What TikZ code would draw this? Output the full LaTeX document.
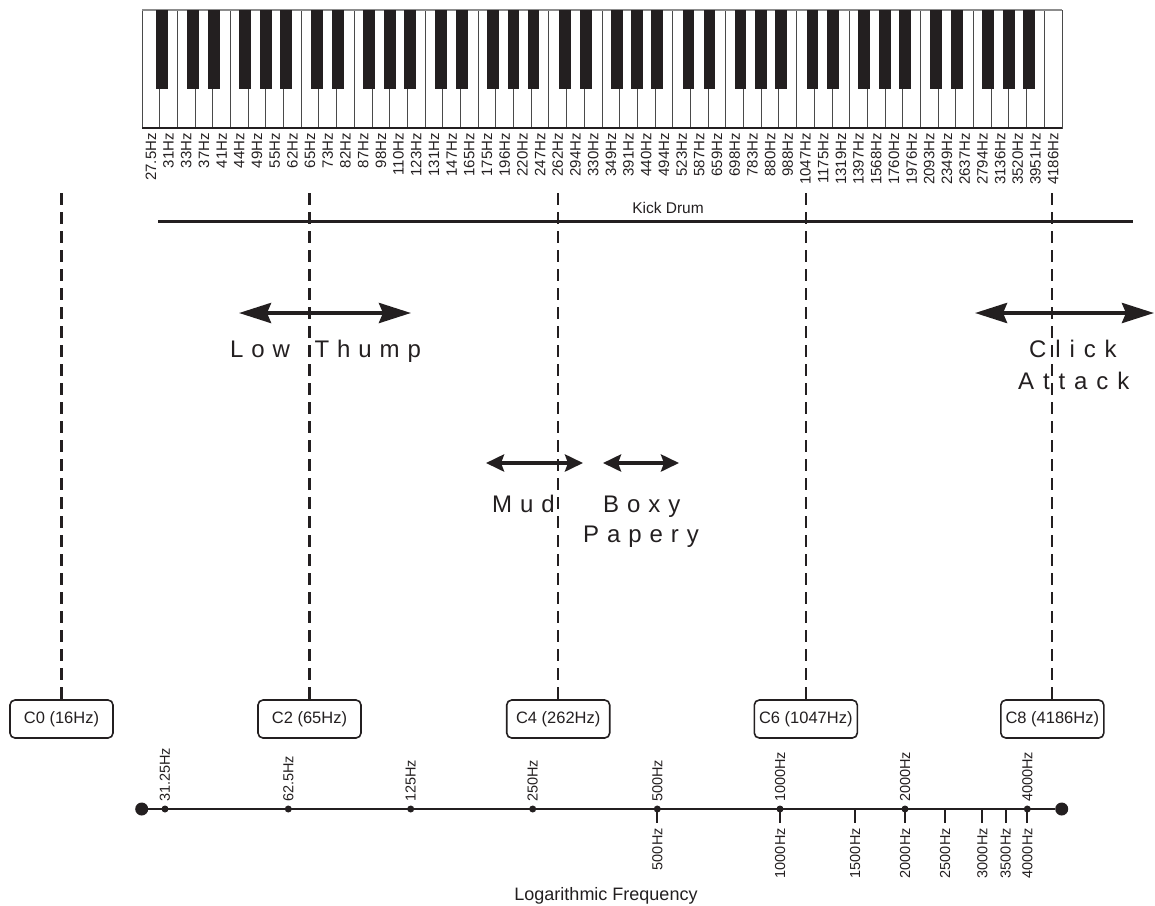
\documentclass[tikz,border=0pt]{standalone}
\usepackage{fontspec}
\setmainfont{Liberation Sans}
\newfontfamily\trackedA[LetterSpace=33]{Liberation Sans}
\newfontfamily\trackedB[LetterSpace=37]{Liberation Sans}
\usetikzlibrary{arrows.meta}
\definecolor{ink}{HTML}{231F20}
\definecolor{keyline}{HTML}{4A4A4A}
\definecolor{keytop}{HTML}{8C8C8C}

\begin{document}
\begin{tikzpicture}[x=1pt,y=-1pt,
  whitekey/.style={draw=keyline, line width=0.9pt, fill=white},
  blackkey/.style={fill=ink},
  keylabel/.style={rotate=90, anchor=east, inner sep=0pt, text=ink, font=\fontsize{15}{16}\selectfont},
  axlabelup/.style={rotate=90, anchor=west, inner sep=0pt, text=ink, font=\fontsize{14.5}{15}\selectfont},
  axlabeldown/.style={rotate=90, anchor=east, inner sep=0pt, text=ink, font=\fontsize{14.5}{15}\selectfont},
  notebox/.style={draw=ink, line width=1.6pt, rounded corners=5pt, fill=white,
    minimum width=103pt, minimum height=38pt, inner sep=0pt, text=ink,
    font=\fontsize{16.5}{18}\selectfont},
  guide/.style={draw=ink, line width=2.1pt, dash pattern=on 12pt off 7pt},
  bigarrow/.style={draw=ink, line width=4pt,
    {Stealth[length=32pt,width=20pt,inset=4pt]}-{Stealth[length=32pt,width=20pt,inset=4pt]}},
  smallarrow/.style={draw=ink, line width=4pt,
    {Stealth[length=18pt,width=17pt,inset=3pt]}-{Stealth[length=18pt,width=17pt,inset=3pt]}},
  bandA/.style={anchor=base west, inner sep=0pt, text=ink, font=\trackedA\fontsize{24}{30}\selectfont},
  bandB/.style={anchor=base west, inner sep=0pt, text=ink, font=\trackedB\fontsize{24}{30}\selectfont},
  bigdot/.style={circle, fill=ink, minimum size=13pt, inner sep=0pt},
  smalldot/.style={circle, fill=ink, minimum size=7pt, inner sep=0pt},
  axis/.style={draw=ink, line width=2pt},
  stub/.style={draw=ink, line width=2pt}]
\useasboundingbox (0,0) rectangle (1155,905);

% ---- keyboard: 52 white keys from A0 to C8 ----
\def\wk{17.6923}
\foreach \i in {0,...,51}
  \draw[whitekey] ({142+\i*\wk},10) rectangle ++(\wk,118);
\draw[keytop, line width=1.2pt] (142,10) -- (1062,10);
\draw[ink, line width=1.3pt] (142,128) -- (1062,128);

% black keys, offset from the white-key boundary they sit on
\foreach \i in {0,...,50} {
  \pgfmathtruncatemacro\m{mod(\i,7)}
  \ifcase\m \def\off{2.3}\or \def\off{}\or \def\off{-1.9}\or \def\off{1.3}\or
    \def\off{}\or \def\off{-3}\or \def\off{0}\fi
  \ifx\off\empty\else
    \fill[blackkey] ({142+(\i+1)*\wk+\off-5.9},10) rectangle ++(11.8,79);
  \fi
}

% key frequencies
\foreach \f [count=\k from 0] in {27.5,31,33,37,41,44,49,55,62,65,73,82,87,98,110,123,
  131,147,165,175,196,220,247,262,294,330,349,391,440,494,523,587,659,698,783,880,988,
  1047,1175,1319,1397,1568,1760,1976,2093,2349,2637,2794,3136,3520,3951,4186}
  \node[keylabel] (hz\k) at ({142+(\k+0.5)*\wk},133) {\f Hz};

% ---- octave markers ----
\node[notebox] (bC0) at (61.5,719) {C0 (16Hz)};
\node[notebox] (bC2) at (309.5,719) {C2 (65Hz)};
\node[notebox] (bC4) at (558.2,719) {C4 (262Hz)};
\node[notebox] (bC6) at (805.8,719) {C6 (1047Hz)};
\node[notebox] (bC8) at (1052.3,719) {C8 (4186Hz)};
\coordinate (tC0) at (61.5,193);
\coordinate (tC2) at (309.5,193);
\coordinate (tC4) at (558.2,193);
\coordinate (tC6) at (805.8,193);
\coordinate (tC8) at (1052.3,193);
\foreach \n in {C0,C2,C4,C6,C8}
  \draw[guide] (t\n) -- (b\n.north);

% ---- kick drum range ----
\coordinate (kL) at (158,221);
\coordinate (kR) at (1133,221);
\draw[ink, line width=3pt] (kL) -- (kR);
\node[anchor=base, inner sep=0pt, text=ink, font=\fontsize{15.5}{17}\selectfont] (kick) at (668,213) {Kick Drum};

% ---- frequency bands ----
\coordinate (ltL) at (239,313);
\coordinate (ltR) at (411,313);
\draw[bigarrow] (ltL) -- (ltR);
\node[bandA] (low) at (230,357) {Low\hspace{10pt} Thump};

\coordinate (caL) at (975,313);
\coordinate (caR) at (1154,313);
\draw[bigarrow] (caL) -- (caR);
\node[bandB] (click) at (1029,357) {Click};
\node[bandB] (attack) at (1018,389) {Attack};

\coordinate (mdL) at (486,463);
\coordinate (mdR) at (583,463);
\draw[smallarrow] (mdL) -- (mdR);
\node[bandA] (mud) at (492,512) {Mud};

\coordinate (bxL) at (603,463);
\coordinate (bxR) at (679,463);
\draw[smallarrow] (bxL) -- (bxR);
\node[bandA] (boxy) at (603,512) {Boxy};
\node[bandA] (papery) at (583,542) {Papery};

% ---- logarithmic frequency axis ----
\node[bigdot] (axL) at (141.7,809) {};
\node[bigdot] (axR) at (1061.7,809) {};
\draw[axis] (axL) -- (axR);

\foreach \x/\lab [count=\j] in {657.3/500,780/1000,855/1500,905/2000,945/2500,982.3/3000,1005.7/3500,1027.3/4000} {
  \coordinate (s\j) at (\x,809);
  \coordinate (e\j) at (\x,823);
  \draw[stub] (s\j) -- (e\j);
  \node[axlabeldown] (dn\j) at (\x,828) {\lab Hz};
}
\foreach \x/\lab [count=\j] in {165/31.25,288.3/62.5,410.7/125,532.7/250,657.3/500,780/1000,905/2000,1027.3/4000} {
  \node[smalldot] (pt\j) at (\x,809) {};
  \node[axlabelup] (up\j) at (\x,802) {\lab Hz};
}

\node[anchor=base, inner sep=0pt, text=ink, font=\fontsize{18}{20}\selectfont] (axtitle) at (606,900) {Logarithmic Frequency};
\end{tikzpicture}
\end{document}
